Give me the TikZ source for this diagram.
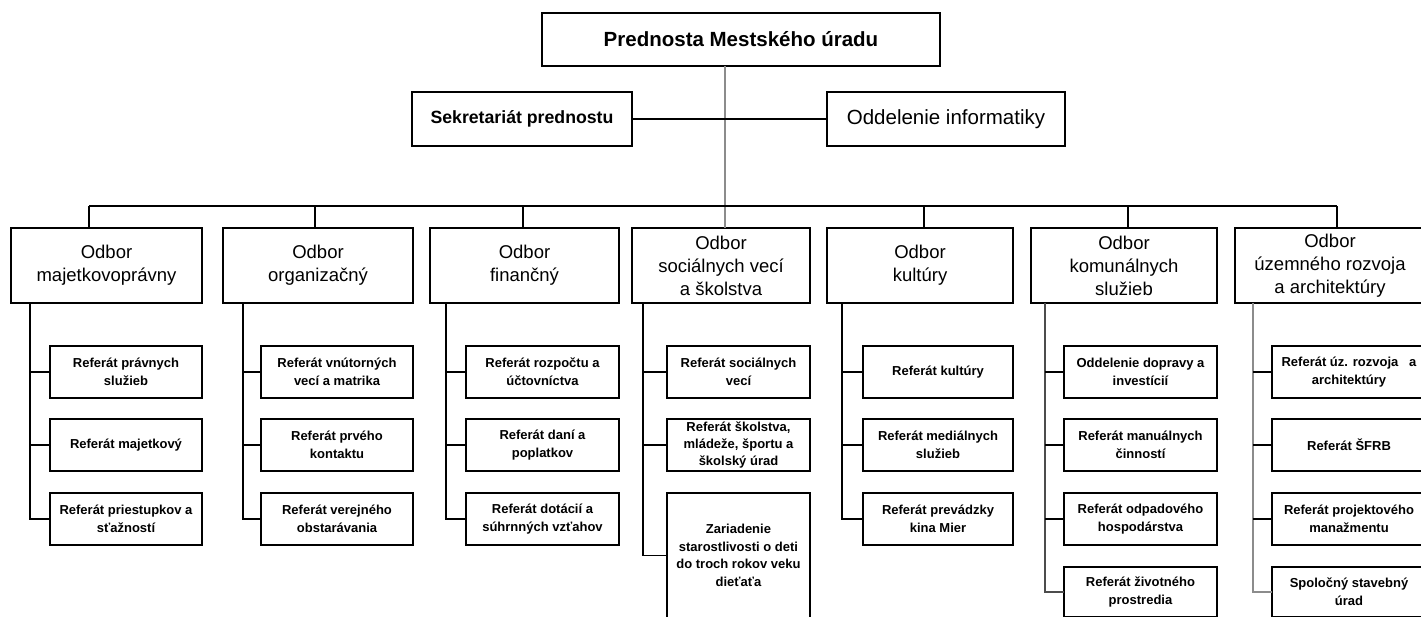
\documentclass[tikz,border=0pt]{standalone}
\usepackage{fontspec}
\setmainfont{Liberation Sans}
\begin{document}
\begin{tikzpicture}[x=1pt,y=-1pt,
  box/.style={draw, line width=1.6pt, inner sep=0pt, outer sep=0pt, align=center, text=black},
  topbox/.style={box, font=\bfseries\fontsize{20.5}{24}\selectfont},
  sekbox/.style={box, font=\bfseries\fontsize{17.7}{21}\selectfont},
  oddbox/.style={box, font=\fontsize{20.5}{24}\selectfont},
  dept/.style={box, minimum height=75pt, font=\fontsize{18.5}{23}\selectfont},
  sub/.style={box, minimum height=52pt, font=\bfseries\fontsize{13}{18}\selectfont},
  link/.style={line width=1.2pt, black},
  glink/.style={line width=1.2pt, black!45},
]
\useasboundingbox (0,0) rectangle (1421,616);

% top level
\node[topbox, minimum width=398pt, minimum height=53pt] (top) at (741,39.5) {Prednosta Mestského úradu};
\node[sekbox, minimum width=220pt, minimum height=54pt] (sek) at (522,119) {Sekretariát prednostu};
\node[oddbox, minimum width=238pt, minimum height=54pt] (odd) at (946,119) {Oddelenie informatiky};

% departments
\node[dept, minimum width=191pt] (d1) at (106.5,265.5) {Odbor\\majetkovoprávny};
\node[dept, minimum width=190pt] (d2) at (318,265.5) {Odbor\\organizačný};
\node[dept, minimum width=189pt] (d3) at (524.5,265.5) {Odbor\\finančný};
\node[dept, minimum width=178pt] (d4) at (721,265.5) {Odbor\\sociálnych vecí\\a školstva};
\node[dept, minimum width=186pt] (d5) at (920,265.5) {Odbor\\kultúry};
\node[dept, minimum width=186pt] (d6) at (1124,265.5) {Odbor\\komunálnych\\služieb};
\node[dept, minimum width=190pt] (d7) at (1330,265.5) {Odbor\\územného rozvoja\\a architektúry};

% column 1
\node[sub, minimum width=152pt] (s11) at (126,372) {Referát právnych\\služieb};
\node[sub, minimum width=152pt] (s12) at (126,445) {Referát majetkový};
\node[sub, minimum width=152pt] (s13) at (126,519) {Referát priestupkov a\\sťažností};
% column 2
\node[sub, minimum width=152pt] (s21) at (337,372) {Referát vnútorných\\vecí a matrika};
\node[sub, minimum width=152pt] (s22) at (337,445) {Referát prvého\\kontaktu};
\node[sub, minimum width=152pt] (s23) at (337,519) {Referát verejného\\obstarávania};
% column 3
\node[sub, minimum width=153pt] (s31) at (542.5,372) {Referát rozpočtu a\\účtovníctva};
\node[sub, minimum width=153pt] (s32) at (542.5,445) {Referát daní a\\poplatkov};
\node[sub, minimum width=153pt] (s33) at (542.5,519) {Referát dotácií a\\súhrnných vzťahov};
% column 4
\node[sub, minimum width=143pt] (s41) at (738.5,372) {Referát sociálnych\\vecí};
\node[sub, minimum width=143pt, font=\bfseries\fontsize{13}{17}\selectfont] (s42) at (738.5,445) {Referát školstva,\\mládeže, športu a\\školský úrad};
\node[sub, minimum width=143pt, minimum height=125pt, font=\bfseries\fontsize{13}{17.5}\selectfont] (s43) at (738.5,555.5) {Zariadenie\\starostlivosti o deti\\do troch rokov veku\\dieťaťa};
% column 5
\node[sub, minimum width=150pt] (s51) at (938,372) {Referát kultúry};
\node[sub, minimum width=150pt] (s52) at (938,445) {Referát mediálnych\\služieb};
\node[sub, minimum width=150pt] (s53) at (938,519) {Referát prevádzky\\kina Mier};
% column 6
\node[sub, minimum width=153pt] (s61) at (1140.5,372) {Oddelenie dopravy a\\investícií};
\node[sub, minimum width=153pt] (s62) at (1140.5,445) {Referát manuálnych\\činností};
\node[sub, minimum width=153pt] (s63) at (1140.5,519) {Referát odpadového\\hospodárstva};
\node[sub, minimum width=153pt, minimum height=50pt] (s64) at (1140.5,592) {Referát životného\\prostredia};
% column 7
\node[sub, minimum width=154pt] (s71) at (1349,372) {Referát úz. rozvoja\ \ \ a\\architektúry};
\node[sub, minimum width=154pt] (s72) at (1349,445) {Referát ŠFRB};
\node[sub, minimum width=154pt] (s73) at (1349,519) {Referát projektového\\manažmentu};
\node[sub, minimum width=154pt, minimum height=50pt] (s74) at (1349,592) {Spoločný stavebný\\úrad};

% top connectors
\coordinate (ctop) at (725,66);
\draw[glink] (ctop) -- (ctop |- d4.north);
\draw[link] (sek.east) -- (odd.west);

% bus
\coordinate (b1) at (89,206);
\coordinate (b2) at (315,206);
\coordinate (b3) at (523,206);
\coordinate (b5) at (924,206);
\coordinate (b6) at (1128,206);
\coordinate (b7) at (1337,206);
\draw[link] (b1) -- (b7);
\foreach \i in {1,2,3,5,6,7} \draw[link] (b\i) -- (b\i |- d\i.north);

% column connectors
\coordinate (v1) at (30,303);
\coordinate (v2) at (243,303);
\coordinate (v3) at (446,303);
\coordinate (v4) at (643,303);
\coordinate (v5) at (842,303);
\coordinate (v6) at (1045,303);
\coordinate (v7) at (1253,303);
\foreach \c in {1,2,3,5} {
  \draw[link] (v\c) |- (s\c3.west);
  \draw[link] (v\c |- s\c1.west) -- (s\c1.west);
  \draw[link] (v\c |- s\c2.west) -- (s\c2.west);
}
\draw[link] (v4) |- (s43.west);
\draw[link] (v4 |- s41.west) -- (s41.west);
\draw[link] (v4 |- s42.west) -- (s42.west);
\draw[glink, black!70] (v6) |- (s64.west);
\foreach \r in {1,2,3} \draw[link] (v6 |- s6\r.west) -- (s6\r.west);
\draw[glink] (v7) |- (s74.west);
\foreach \r in {1,2,3} \draw[link] (v7 |- s7\r.west) -- (s7\r.west);
\end{tikzpicture}
\end{document}
